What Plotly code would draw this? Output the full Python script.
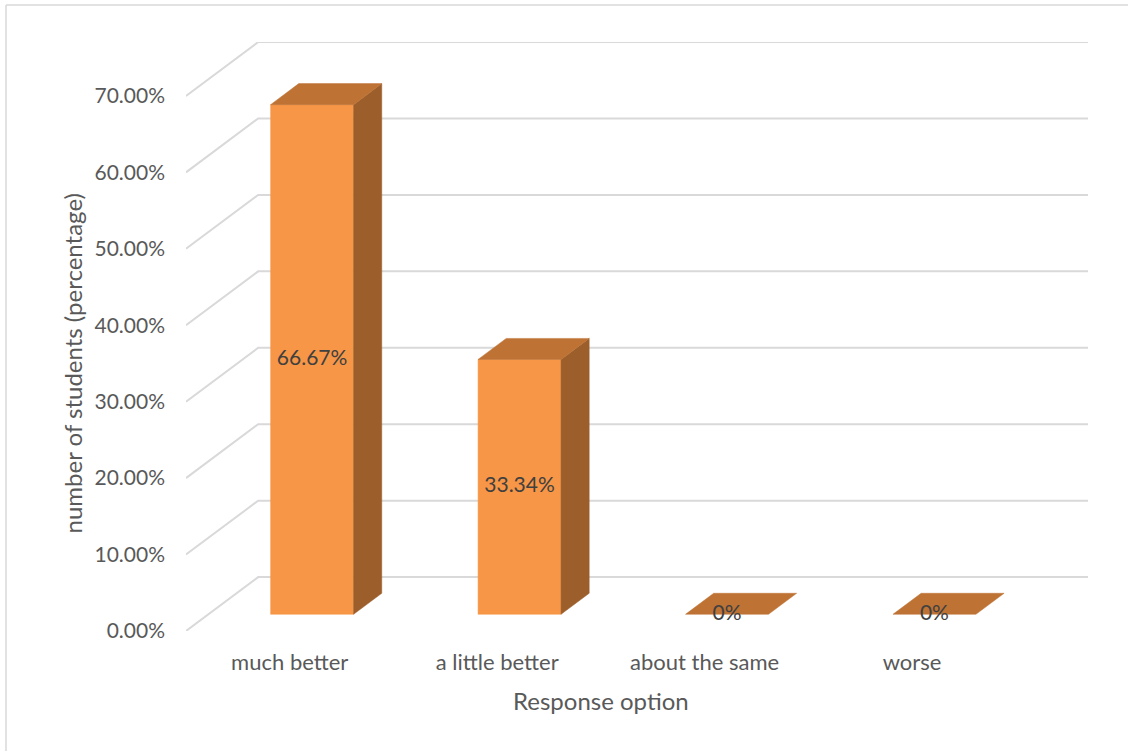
import plotly.graph_objects as go

categories = ["much better", "a little better", "about the same", "worse"]
values = [0.6667, 0.3334, 0.0, 0.0]
value_labels = ["66.67%", "33.34%", "0%", "0%"]
tick_vals = [0.0, 0.1, 0.2, 0.3, 0.4, 0.5, 0.6, 0.7]
x_title = "Response option"
y_title = "number of students (percentage)"

# pseudo-3D geometry (data units)
DX = 0.348      # depth offset in category units
DY = 0.0705     # depth offset in value units
BAR_W = 0.40
D_FRONT = 0.31  # bar front depth fraction
D_BACK = 0.70   # bar back depth fraction

FRONT = "#F79646"
TOP = "#BE7234"
SIDE = "#9C5E2B"
GRID = "#D9D9D9"
TXT = "#595959"
FONT = "Lato"

fig = go.Figure()

# gridlines (side wall diagonal + back wall)
for t in tick_vals:
    fig.add_trace(go.Scatter(
        x=[-0.5, -0.5 + DX, 3.5 + DX],
        y=[t, t + DY, t + DY],
        mode="lines", line=dict(color=GRID, width=2),
        hoverinfo="skip", showlegend=False))

for i, v in enumerate(values):
    x0 = i + D_FRONT * DX - BAR_W / 2
    x1 = x0 + BAR_W
    y0 = D_FRONT * DY
    y1 = y0 + v
    ddx = (D_BACK - D_FRONT) * DX
    ddy = (D_BACK - D_FRONT) * DY
    if v > 0:
        # front face
        fig.add_trace(go.Scatter(
            x=[x0, x1, x1, x0, x0], y=[y0, y0, y1, y1, y0],
            fill="toself", fillcolor=FRONT, mode="lines",
            line=dict(color=FRONT, width=0.5),
            hoverinfo="skip", showlegend=False))
        # side face
        fig.add_trace(go.Scatter(
            x=[x1, x1 + ddx, x1 + ddx, x1, x1],
            y=[y0, y0 + ddy, y1 + ddy, y1, y0],
            fill="toself", fillcolor=SIDE, mode="lines",
            line=dict(color=SIDE, width=0.5),
            hoverinfo="skip", showlegend=False))
    # top face
    fig.add_trace(go.Scatter(
        x=[x0, x1, x1 + ddx, x0 + ddx, x0],
        y=[y1, y1, y1 + ddy, y1 + ddy, y1],
        fill="toself", fillcolor=TOP, mode="lines",
        line=dict(color=TOP, width=0.5),
        hoverinfo="skip", showlegend=False))
    # data label
    fig.add_trace(go.Scatter(
        x=[(x0 + x1) / 2], y=[y0 + v / 2],
        mode="text", text=[value_labels[i]],
        textfont=dict(family=FONT, size=21, color="#404040"),
        textposition="middle center",
        hoverinfo="skip", showlegend=False))

fig.update_xaxes(
    range=[-0.5, 3.5 + DX],
    tickvals=list(range(len(categories))), ticktext=categories,
    showgrid=False, zeroline=False, showline=False, ticks="",
    tickfont=dict(family=FONT, size=22, color=TXT),
    ticklabelstandoff=16,
    fixedrange=True)
fig.update_yaxes(
    range=[0, 0.7 + DY],
    tickvals=tick_vals, tickformat=".2%",
    showgrid=False, zeroline=False, showline=False, ticks="",
    tickfont=dict(family=FONT, size=21, color=TXT),
    ticklabelstandoff=20,
    fixedrange=True)

W, H = 1128, 751
L, R, T, B = 186, 40, 42, 120
pw, ph = W - L - R, H - T - B

# axis titles centred on the front plane
fig.add_annotation(
    x=(len(categories) - 1) / 2, xref="x", y=(631 - 700) / ph, yref="paper",
    text=x_title, showarrow=False, xanchor="center", yanchor="middle",
    font=dict(family=FONT, size=24, color=TXT))
fig.add_annotation(
    x=(72 - L) / pw, xref="paper", y=tick_vals[-1] / 2, yref="y",
    text=y_title, showarrow=False, textangle=-90,
    xanchor="center", yanchor="middle",
    font=dict(family=FONT, size=24, color=TXT))

fig.add_shape(type="line", xref="paper", yref="paper",
              x0=(6 - L) / pw, x1=(W + 5 - L) / pw,
              y0=(H - B - 5) / ph, y1=(H - B - 5) / ph,
              line=dict(color="#D9D9D9", width=1.5))
fig.add_shape(type="line", xref="paper", yref="paper",
              x0=(6 - L) / pw, x1=(6 - L) / pw,
              y0=(H - B - 5) / ph, y1=(H - B - 760) / ph,
              line=dict(color="#D9D9D9", width=1.5))

fig.update_layout(
    width=W, height=H,
    margin=dict(l=L, r=R, t=T, b=B),
    paper_bgcolor="white", plot_bgcolor="white",
    showlegend=False,
    font=dict(family=FONT, color=TXT))

fig.write_html("out.html")
